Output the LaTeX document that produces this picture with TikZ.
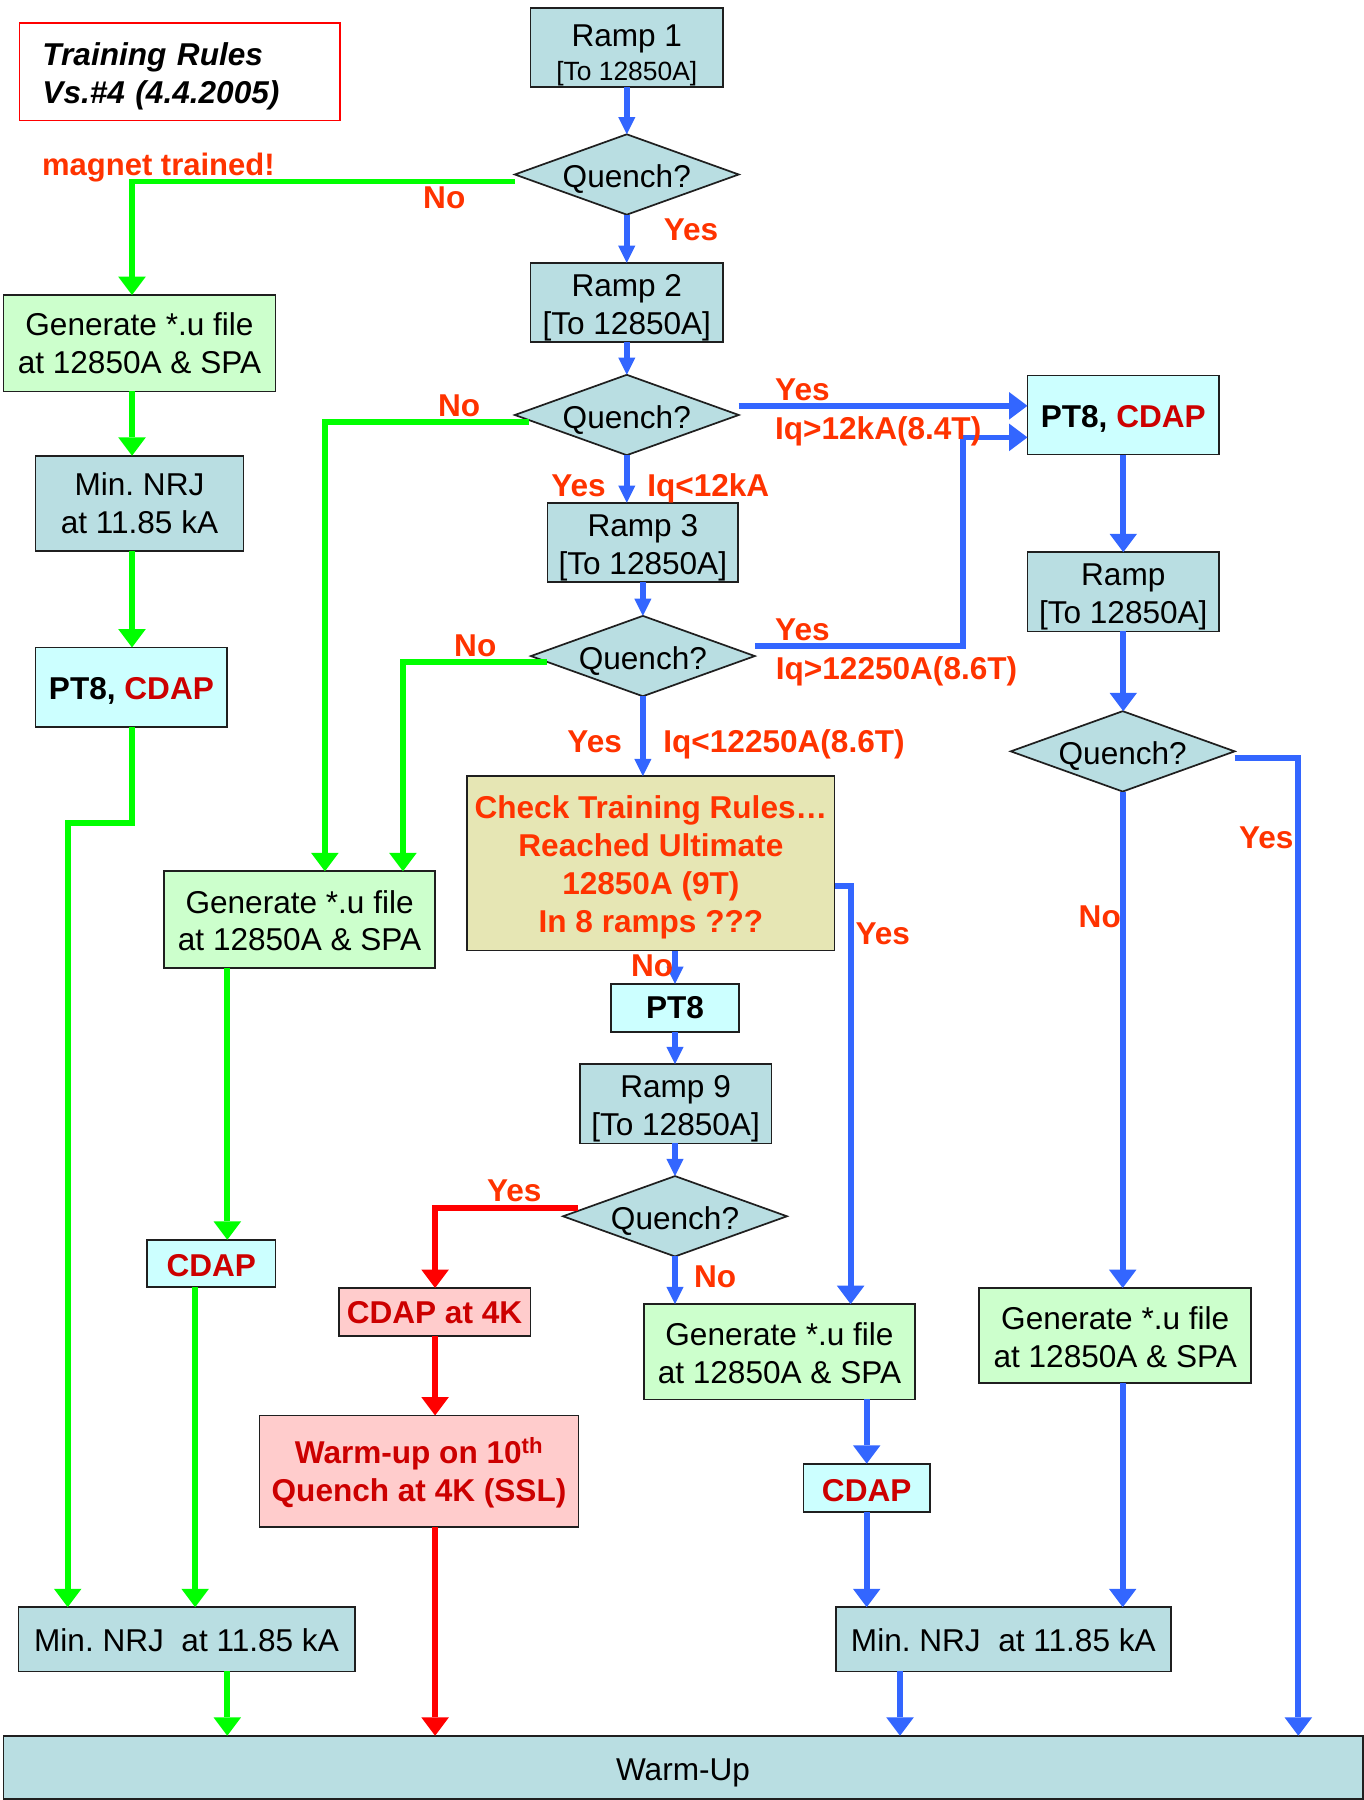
\documentclass[tikz,border=0pt]{standalone}
\usepackage{fontspec}
\setmainfont{Liberation Sans}
\usetikzlibrary{arrows.meta,shapes.geometric,calc}
\definecolor{bluegray}{RGB}{185,222,226}
\definecolor{lgreen}{RGB}{204,255,204}
\definecolor{lcyan}{RGB}{204,255,255}
\definecolor{khaki}{RGB}{230,230,180}
\definecolor{lpink}{RGB}{255,204,204}
\definecolor{arrblue}{RGB}{51,102,255}
\definecolor{arrgreen}{RGB}{0,255,0}
\definecolor{arrred}{RGB}{255,0,0}
\definecolor{lblred}{RGB}{255,51,0}
\definecolor{darkred}{RGB}{204,0,0}
\newcommand\mystrut[1]{\rule{0pt}{#1}}
\begin{document}
\begin{tikzpicture}[x=1pt,y=-1pt,
  every node/.style={inner sep=0pt, outer sep=0pt},
  txt/.style={font=\fontsize{27.5}{33}\selectfont},
  btxt/.style={font=\bfseries\fontsize{27.5}{33}\selectfont},
  tdown/.style={execute at begin node={\rule{0pt}{#1}}},
  box/.style={draw=black!88, line width=1.5pt, align=center, txt},
  rampbox/.style={box, fill=bluegray},
  genbox/.style={box, fill=lgreen},
  cyanbox/.style={box, fill=lcyan},
  pinkbox/.style={box, fill=lpink, text=darkred, btxt},
  dia/.style={draw=black!88, line width=1.5pt, fill=bluegray, diamond, aspect=2.77, minimum width=195pt, minimum height=70pt, txt, text height=23pt, text depth=-3pt},
  lbl/.style={text=lblred, btxt, text height=19.7pt, text depth=0pt},
  bs/.style={arrblue, line width=5pt, -{Triangle[width=15pt,length=15pt,line width=0pt]}},
  bb/.style={arrblue, line width=5pt, -{Triangle[width=24pt,length=16pt,line width=0pt]}},
  gb/.style={arrgreen, line width=5pt, -{Triangle[width=24pt,length=16pt,line width=0pt]}},
  rb/.style={arrred, line width=5pt, -{Triangle[width=24pt,length=16pt,line width=0pt]}},
]
\useasboundingbox (0,0) rectangle (1188,1568);

% ---------- title ----------
\node[box, draw=red, line width=1.3pt, minimum width=279pt, minimum height=85pt, text width=239pt, align=left, font=\bfseries\itshape\fontsize{27.5}{33}\selectfont, tdown=28pt] (title) at (156.5,62.5) {Training Rules\\Vs.\#4 (4.4.2005)};

% ---------- centre column ----------
\node[rampbox, minimum width=168pt, minimum height=69pt] (ramp1) at (546,41.5) {\mystrut{32pt}Ramp 1\\[-3pt]{\fontsize{23}{28}\selectfont [To 12850A]}};
\node[dia] (q1) at (546,152) {Quench?};
\node[rampbox, minimum width=168pt, minimum height=69pt] (ramp2) at (546,263.5) {\mystrut{28pt}Ramp 2\\{[To 12850A]}};
\node[dia] (q2) at (546,361.5) {Quench?};
\node[rampbox, minimum width=166pt, minimum height=69pt] (ramp3) at (560,472.5) {\mystrut{28pt}Ramp 3\\{[To 12850A]}};
\node[dia] (q3) at (560,571.5) {Quench?};
\node[box, fill=khaki, text=lblred, btxt, minimum width=320pt, minimum height=152pt] (check) at (567,752) {\mystrut{27pt}Check Training Rules…\\Reached Ultimate\\12850A (9T)\\In 8 ramps ???};
\node[cyanbox, btxt, minimum width=112pt, minimum height=42pt] (pt8) at (588,878) {PT8};
\node[rampbox, minimum width=167pt, minimum height=69pt] (ramp9) at (588.5,961.5) {\mystrut{28pt}Ramp 9\\{[To 12850A]}};
\node[dia] (q4) at (588,1059.5) {Quench?};
\node[pinkbox, minimum width=167pt, minimum height=42pt] (cdap4k) at (378.5,1143) {CDAP at 4K};
\node[pinkbox, minimum width=278pt, minimum height=97pt] (warm10) at (365,1281.5) {\mystrut{26pt}Warm-up on 10\textsuperscript{th}\\Quench at 4K (SSL)};
\node[genbox, minimum width=236pt, minimum height=83pt] (gen3) at (679,1177.5) {\mystrut{22pt}Generate *.u file\\at 12850A \& SPA};
\node[cyanbox, btxt, text=darkred, minimum width=110pt, minimum height=42pt, tdown=24pt] (cdap3) at (755,1296) {CDAP};
\node[rampbox, minimum width=292pt, minimum height=56pt, tdown=22pt] (min3) at (874,1428) {Min.\ NRJ\ \ at 11.85 kA};
\node[rampbox, minimum width=1184pt, minimum height=55pt, tdown=28pt] (warm) at (595,1539.5) {Warm-Up};

% ---------- right column ----------
\node[cyanbox, btxt, minimum width=167pt, minimum height=69pt, tdown=26pt] (pc1) at (978.5,361.5) {PT8, \textcolor{darkred}{CDAP}};
\node[rampbox, minimum width=167pt, minimum height=69pt] (ramp4) at (978.5,515.5) {\mystrut{28pt}Ramp\\{[To 12850A]}};
\node[dia] (q5) at (978,654.5) {Quench?};
\node[genbox, minimum width=237pt, minimum height=83pt] (gen4) at (971.5,1163.5) {\mystrut{22pt}Generate *.u file\\at 12850A \& SPA};

% ---------- left column ----------
\node[genbox, minimum width=237pt, minimum height=84pt] (gen1) at (121.5,299) {Generate *.u file\\at 12850A \& SPA};
\node[rampbox, minimum width=181pt, minimum height=83pt] (min1) at (121.5,438.5) {Min.\ NRJ\\at 11.85 kA};
\node[cyanbox, btxt, minimum width=167pt, minimum height=69pt, tdown=26pt] (pc2) at (114.5,598.5) {PT8, \textcolor{darkred}{CDAP}};
\node[genbox, minimum width=236pt, minimum height=84pt] (gen2) at (261,801) {\mystrut{22pt}Generate *.u file\\at 12850A \& SPA};
\node[cyanbox, btxt, text=darkred, minimum width=112pt, minimum height=41pt, tdown=24pt] (cdap2) at (184,1100.5) {CDAP};
\node[rampbox, minimum width=293pt, minimum height=56pt, tdown=22pt] (min2) at (162.5,1428) {Min.\ NRJ\ \ at 11.85 kA};

% ---------- helper coordinates ----------
\coordinate (c59) at (59,0);
\coordinate (c115) at (115,0);
\coordinate (c170) at (170,0);
\coordinate (c198) at (198,0);
\coordinate (c283) at (283,0);
\coordinate (c351) at (351,0);
\coordinate (c379) at (379,0);
\coordinate (c741) at (741,0);
\coordinate (c784) at (784,0);
\coordinate (c1131) at (1131,0);
\coordinate (k1) at (839,381);
\coordinate (k3) at (59,717);
\coordinate (s2) at ($(q2.east)+(0,-8)$);
\coordinate (s3) at ($(q3.east)+(0,-9)$);
\coordinate (s4) at ($(check.east)+(0,20)$);
\coordinate (s5) at ($(q1.west)+(0,6)$);
\coordinate (s6) at ($(q2.west)+(12,6)$);
\coordinate (s7) at ($(q3.west)+(14,5)$);
\coordinate (s8) at ($(q4.west)+(13,-7)$);
\coordinate (s9) at ($(q5.east)+(0,6)$);

% ---------- blue connectors ----------
\draw[bs] (ramp1) -- (q1);
\draw[bs] (q1) -- (ramp2);
\draw[bs] (ramp2) -- (q2);
\draw[bs] (q2.south) -- (q2.south |- ramp3.north);
\draw[bs] (ramp3) -- (q3);
\draw[bs] (q3.south) -- (q3.south |- check.north);
\draw[bs] (pt8.north |- check.south) -- (pt8.north);
\draw[bs] (pt8.south) -- (pt8.south |- ramp9.north);
\draw[bs] (q4.north |- ramp9.south) -- (q4.north);
\draw[bs] (q4.south) -- (q4.south |- gen3.north);
\draw[bb] (cdap3.north |- gen3.south) -- (cdap3.north);
\draw[bb] (cdap3.south) -- (cdap3.south |- min3.north);
\draw[bb] (c784 |- min3.south) -- (c784 |- warm.north);
\draw[bb] (s2) -- (s2 -| pc1.west);
\draw[bb] (s3) -| (k1) -- (k1 -| pc1.west);
\draw[bb] (s4) -| (c741 |- gen3.north);
\draw[bb] (pc1) -- (ramp4);
\draw[bb] (ramp4.south) -- (ramp4.south |- q5.north);
\draw[bb] (q5.south) -- (q5.south |- gen4.north);
\draw[bb] (q5.south |- gen4.south) -- (q5.south |- min3.north);
\draw[bb] (s9) -| (c1131 |- warm.north);

% ---------- green connectors ----------
\draw[gb] (s5) -| (c115 |- gen1.north);
\draw[gb] (c115 |- gen1.south) -- (c115 |- min1.north);
\draw[gb] (c115 |- min1.south) -- (c115 |- pc2.north);
\draw[gb] (c115 |- pc2.south) |- (k3) -- (k3 |- min2.north);
\draw[gb] (s6) -| (c283 |- gen2.north);
\draw[gb] (s7) -| (c351 |- gen2.north);
\draw[gb] (c198 |- gen2.south) -- (c198 |- cdap2.north);
\draw[gb] (c170 |- cdap2.south) -- (c170 |- min2.north);
\draw[gb] (c198 |- min2.south) -- (c198 |- warm.north);

% ---------- red connectors ----------
\draw[rb] (s8) -| (c379 |- cdap4k.north);
\draw[rb] (c379 |- cdap4k.south) -- (c379 |- warm10.north);
\draw[rb] (c379 |- warm10.south) -- (c379 |- warm.north);

% ---------- labels ----------
\node[lbl, font=\bfseries\fontsize{27}{32}\selectfont, text height=19.3pt] (lmt) at (138,143) {magnet trained!};
\node[lbl] (l1) at (387,172) {No};
\node[lbl] (l2) at (602,200) {Yes};
\node[lbl] (l3) at (400,353) {No};
\node[lbl] (l4) at (699,339) {Yes};
\node[lbl] (l5) at (765,373) {Iq>12kA(8.4T)};
\node[lbl] (l6) at (504,423) {Yes};
\node[lbl] (l7) at (617,423) {Iq<12kA};
\node[lbl] (l8) at (414,562) {No};
\node[lbl] (l9) at (699,548) {Yes};
\node[lbl] (l10) at (781,582) {Iq>12250A(8.6T)};
\node[lbl] (l11) at (518,646) {Yes};
\node[lbl] (l12) at (683,646) {Iq<12250A(8.6T)};
\node[lbl] (l13) at (769,813) {Yes};
\node[lbl] (l14) at (568,841) {No};
\node[lbl] (l15) at (448,1037) {Yes};
\node[lbl] (l16) at (623,1112) {No};
\node[lbl] (l17) at (958,798) {No};
\node[lbl] (l18) at (1103,729) {Yes};
\end{tikzpicture}
\end{document}
